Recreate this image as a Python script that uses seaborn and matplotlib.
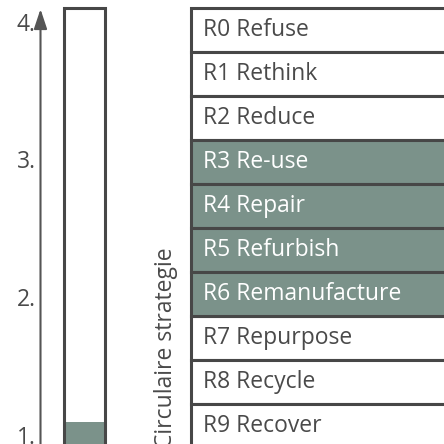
import matplotlib
matplotlib.use("Agg")
import matplotlib.pyplot as plt
import seaborn as sns

# ---- data ----
scale_ticks = [1, 2, 3, 4]
scale_tick_labels = ["1.", "2.", "3.", "4."]
scale_top = 4.1
score = 1.1
score_label = ["score"]
strategies = ["R0 Refuse", "R1 Rethink", "R2 Reduce", "R3 Re-use", "R4 Repair",
              "R5 Refurbish", "R6 Remanufacture", "R7 Repurpose", "R8 Recycle",
              "R9 Recover"]
strategy_group = ["other", "other", "other", "active", "active", "active",
                  "active", "other", "other", "other"]
row_size = [1] * len(strategies)
axis_title = "Circulaire strategie"

# ---- style ----
sns.set_style("white")
plt.rcParams["font.family"] = ["Open Sans", "DejaVu Sans"]
GREEN = "#7b928a"
EDGE = "#474747"
TEXT = "#4a4a4a"
FS = 16.5

W = H = 444.0
fig = plt.figure(figsize=(4.44, 4.44), dpi=100)

# ---- left scale with bar ----
ax1 = fig.add_axes([40.5 / W, 0, 89.5 / W, 1])
sns.barplot(x=score_label, y=[score], color=GREEN, linewidth=0, saturation=1, ax=ax1)
sns.barplot(x=score_label, y=[scale_top], fill=False, color=EDGE, linewidth=2.2, ax=ax1)
for p in ax1.patches[1:]:
    p.set_edgecolor(EDGE)
    p.set_facecolor("none")
    p.set_linewidth(2.2)
ax1.set_xlim(-44 / 51.25, -44 / 51.25 + 89.5 / 51.25)
ax1.set_ylim(0.938, 4.156)
for s in ax1.spines.values():
    s.set_visible(False)
ax1.set_yticks(scale_ticks, scale_tick_labels)
ax1.set_xticks([])
ax1.tick_params(axis="y", length=0, pad=3.5, labelsize=FS, labelcolor=TEXT)
ax1.set_xlabel("")
ax1.set_ylabel("")
ax1.annotate("", xy=(0, 4.09), xycoords=("axes fraction", "data"),
             xytext=(0, 0.9), textcoords=("axes fraction", "data"),
             arrowprops=dict(arrowstyle="-|>,head_length=1.2,head_width=0.4",
                             lw=1.5, color="#555555", shrinkA=0, shrinkB=0),
             annotation_clip=False)
ax1.patch.set_alpha(0)

# ---- right strategy table ----
ax2 = fig.add_axes([191 / W, -4 / H, 320 / W, 440 / H])
sns.barplot(x=row_size, y=strategies, hue=strategy_group,
            palette={"active": GREEN, "other": "white"}, saturation=1,
            orient="h", width=1, dodge=False, legend=False,
            edgecolor=EDGE, linewidth=2.2, ax=ax2)
for p in ax2.patches:
    p.set_clip_on(False)
ax2.set_xlim(0, 1)
ax2.set_ylim(len(strategies) - 0.5, -0.5)
for s in ax2.spines.values():
    s.set_visible(False)
ax2.set_xticks([])
ax2.set_yticks([])
ax2.set_xlabel("")
ax2.set_ylabel("")
for i, (name, grp) in enumerate(zip(strategies, strategy_group)):
    ax2.annotate(name, xy=(0, i), xycoords=("axes fraction", "data"),
                 xytext=(8.6, 0), textcoords="offset points",
                 ha="left", va="center", fontsize=FS,
                 color="white" if grp == "active" else TEXT)
ax2.patch.set_alpha(0)

fig.text(166 / W, 1 - 348 / H, axis_title, rotation=90, ha="center", va="center",
         fontsize=FS, color=TEXT)

fig.savefig("out.png", dpi=100)
